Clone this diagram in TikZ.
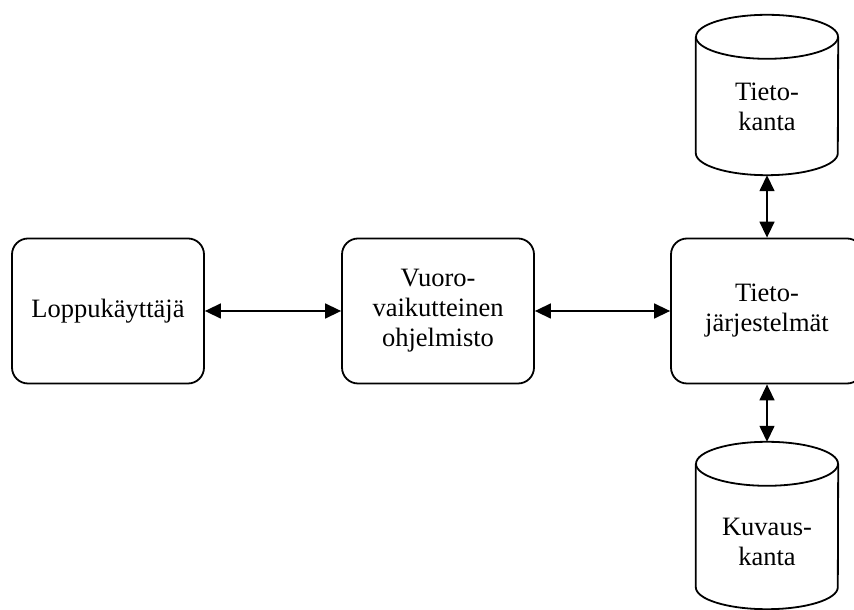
\documentclass[tikz,border=0pt]{standalone}
\usepackage{fontspec}
\setmainfont{Liberation Serif}
\usetikzlibrary{arrows.meta}

\tikzset{
  procbox/.style={draw, line width=1.8pt, rounded corners=16pt,
    minimum width=192pt, minimum height=145pt, align=center,
    font=\fontsize{26.5}{30}\selectfont, inner sep=0pt},
  cylbody/.style={minimum width=142pt, inner sep=0pt},
  cyltext/.style={align=center, inner sep=0pt,
    font=\fontsize{26.5}{30}\selectfont},
  cylline/.style={line width=1.8pt},
  conn/.style={line width=1.5pt,
    {Triangle[length=16pt,width=15pt]}-{Triangle[length=16pt,width=15pt]}}
}

% draws a database drum around the body node #1 (end radii #2 x #3)
\newcommand{\drumaround}[3]{%
  \draw[cylline] (#1.north) ellipse [x radius=#2, y radius=#3];
  \draw[cylline] (#1.north west) -- (#1.south west)
    arc [start angle=180, end angle=360, x radius=#2, y radius=#3]
    -- (#1.north east);
}

\begin{document}
\begin{tikzpicture}[x=1pt, y=1pt]
  \useasboundingbox (0,0) rectangle (854,610);

  % process boxes
  \node[procbox] (user) at (108,299) {Loppukäyttäjä};
  \node[procbox] (app)  at (438,299) {Vuoro-\\vaikutteinen\\ohjelmisto};
  \node[procbox] (sys)  at (767,299) {Tieto-\\järjestelmät};

  % databases
  \node[cylbody, minimum height=116pt] (db)   at (767,515)  {};
  \node[cylbody, minimum height=123pt] (meta) at (767,84.5) {};
  \drumaround{db}{71pt}{22pt}
  \drumaround{meta}{71pt}{22pt}
  \node[cyltext] (dblabel)   at ([yshift=-12pt]db.center)   {Tieto-\\kanta};
  \node[cyltext] (metalabel) at ([yshift=-16pt]meta.center) {Kuvaus-\\kanta};

  % drum rims, used as arrow ends
  \coordinate (dbbot)   at ([yshift=-22pt]db.south);
  \coordinate (metatop) at ([yshift=22pt]meta.north);

  % connectors
  \draw[conn] (user.east) -- (app.west);
  \draw[conn] (app.east) -- (sys.west);
  \draw[conn] (dbbot) -- (sys.north);
  \draw[conn] (sys.south) -- (metatop);
\end{tikzpicture}
\end{document}
